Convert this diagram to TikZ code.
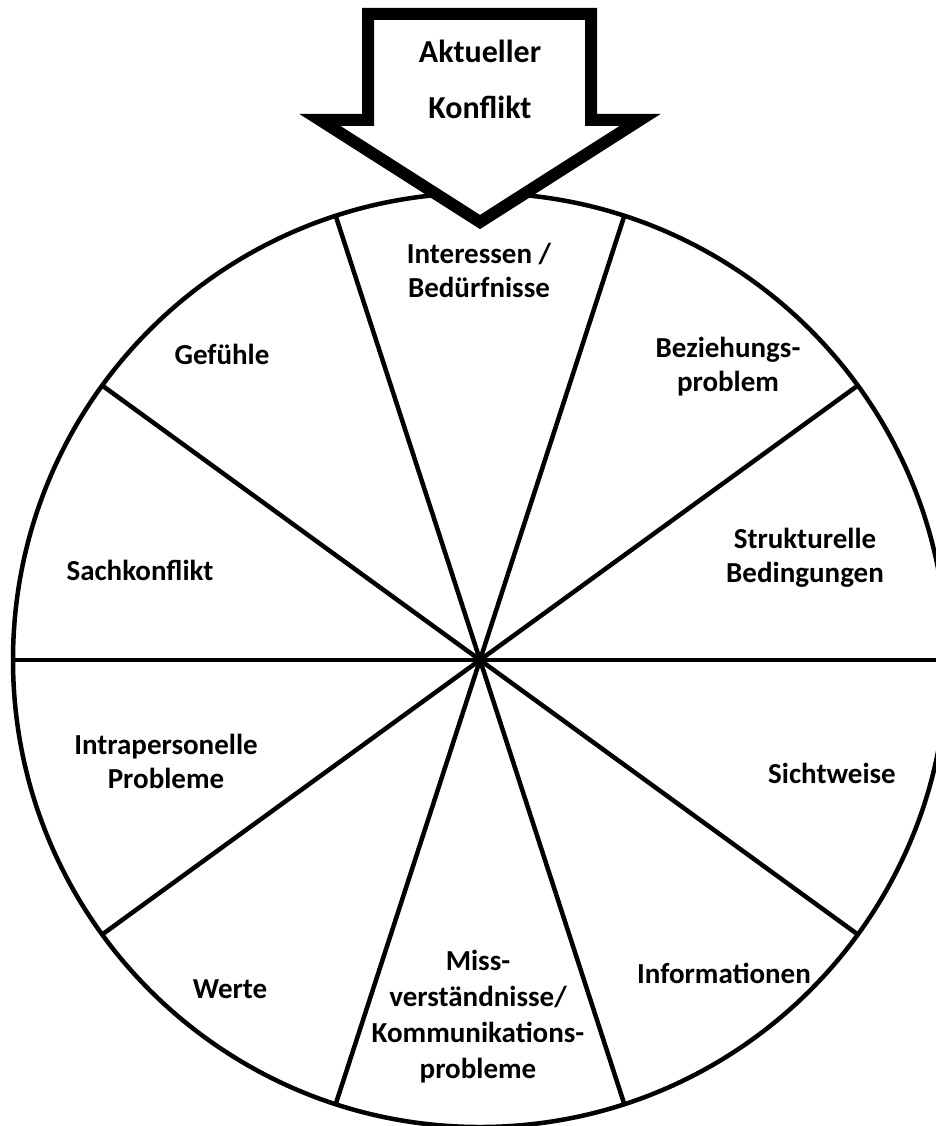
\documentclass[tikz,border=0pt]{standalone}
\usepackage{fontspec}
\setmainfont{Carlito}
\usetikzlibrary{calc}
\begin{document}
\begin{tikzpicture}[x=1pt,y=-1pt,
  lbl/.style={font=\fontsize{29}{34}\selectfont\bfseries, align=center, inner sep=0pt},
  biglbl/.style={font=\fontsize{32}{56}\selectfont\bfseries, align=center, inner sep=0pt},
  ring/.style={line width=4.5pt},
  bigarrow/.style={line width=12pt, fill=white, line join=miter}]
\useasboundingbox (0,0) rectangle (936,1126);
\fill[white] (0,0) rectangle (936,1126);
\begin{scope}
\clip (0,0) rectangle (936,1126);
\coordinate (c) at (480,660);
\draw[ring] (c) circle [radius=467];
\foreach \a in {0,36,72,108,144} {
  \coordinate (s\a) at ($(c)+(\a:467)$);
  \coordinate (t\a) at ($(c)+(\a+180:467)$);
  \draw[ring] (s\a) -- (t\a);
}
\end{scope}
\draw[bigarrow] (368,14) -- (591,14) -- (591,120) -- (640,120) -- (480,222) -- (320,120) -- (368,120) -- cycle;
\node[biglbl] (ak) at (480,79) {\strut Aktueller\\\strut Konflikt};
\node[lbl] (int) at (479,274) {\strut Interessen /\\\strut Bedürfnisse};
\node[lbl] (gef) at (222,358) {\strut Gefühle};
\node[lbl] (bez) at (728,368) {\strut Beziehungs-\\\strut problem};
\node[lbl] (sach) at (140,574) {\strut Sachkonflikt};
\node[lbl] (str) at (805,559) {\strut Strukturelle\\\strut Bedingungen};
\node[lbl] (intra) at (166,765) {\strut Intrapersonelle\\\strut Probleme};
\node[lbl] (sicht) at (832,777) {\strut Sichtweise};
\node[lbl] (wert) at (230,992) {\strut Werte};
\node[lbl, font=\fontsize{29}{36}\selectfont\bfseries] (miss) at (478,1017) {\strut Miss-\\\strut verständnisse/\\\strut Kommunikations-\\\strut probleme};
\node[lbl] (info) at (724,977) {\strut Informationen};
\end{tikzpicture}
\end{document}
